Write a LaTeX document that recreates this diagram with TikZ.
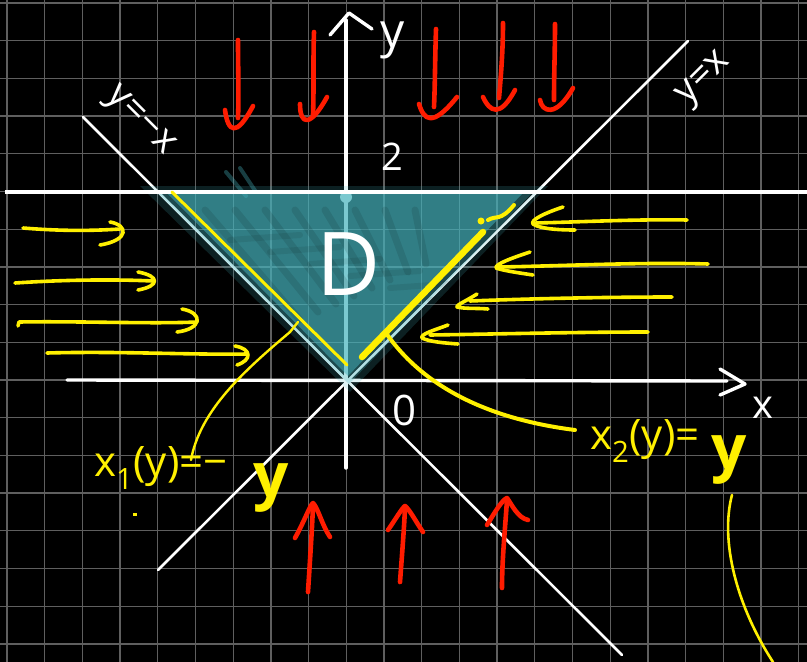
\documentclass[tikz,border=0pt]{standalone}
\usepackage{fontspec}
\setmainfont{Open Sans}
\definecolor{yel}{RGB}{255,240,0}
\definecolor{red1}{RGB}{255,28,0}
\definecolor{cy}{RGB}{70,180,190}
\definecolor{gridc}{RGB}{95,95,95}
\begin{document}
\begin{tikzpicture}[x=1pt,y=-1pt,
  gridl/.style={draw=gridc,line width=1.3pt},
  wl/.style={draw=white,line width=3.4pt,line cap=round,line join=round},
  wd/.style={draw=white,line width=2.6pt,line cap=round},
  ya/.style={draw=yel,line width=3.6pt,line cap=round,line join=round},
  ra/.style={draw=red1,line width=4.6pt,line cap=round,line join=round},
  lab/.style={text=white,inner sep=0pt},
  ylab/.style={text=yel,inner sep=0pt}]
\useasboundingbox (0,0) rectangle (807,662);
\fill[black] (0,0) rectangle (807,662);
% grid
\foreach \i in {0,...,21} \draw[gridl] ({7+37.7*\i},0) -- ({7+37.7*\i},662);
\foreach \j in {0,...,17} \draw[gridl] (0,{3+37.7*\j}) -- (807,{3+37.7*\j});
% lines
\coordinate (dA0) at (158,570); \coordinate (dA1) at (688,41);
\coordinate (dB0) at (83,117);  \coordinate (dB1) at (622,655);
\draw[wd] (dA0) -- (dA1);
\draw[wd] (dB0) -- (dB1);
\coordinate (h0) at (5,192); \coordinate (h1) at (807,192);
\coordinate (xa0) at (67,380); \coordinate (xa1) at (727,381);
\coordinate (ya0) at (346,468); \coordinate (ya1) at (346,20);
\draw[wl] (xa0) -- (xa1);
\draw[wl] (720,369) -- (745,384) -- (720,395);
\draw[wl] (ya0) -- (ya1);
\draw[wl] (330,35) -- (349,13) -- (372,29);
\fill[white] (346,197) circle (6);
% shaded region D
\fill[cy,opacity=0.18] (140,186) -- (548,186) -- (350,392) -- cycle;
\fill[cy,opacity=0.28] (155,190) -- (535,190) -- (349,384) -- cycle;
\fill[cy,opacity=0.5] (168,194) -- (522,194) -- (348,376) -- cycle;
\foreach \k in {0,...,7} {
  \draw[black,opacity=0.1,line width=7pt,line cap=round] ({205+30*\k},210) -- ({300+18*\k},{320-8*\k});
}
\foreach \k in {0,...,5} {
  \draw[black,opacity=0.08,line width=6pt,line cap=round] ({230+40*\k},{240+12*\k}) -- ({300+40*\k},{235+12*\k});
}
\draw[cy,opacity=0.35,line width=4pt,line cap=round] (226,172) -- (246,196);
\draw[cy,opacity=0.35,line width=4pt,line cap=round] (240,168) -- (256,192);
\draw[white,line width=3.4pt] (h0) -- (h1);
% white labels
\node[lab,font=\fontsize{48}{48}\selectfont] (ylab) at (393,40) {y};
\node[lab,font=\fontsize{38}{38}\selectfont] (two) at (392,157) {2};
\node[lab,font=\fontsize{42}{42}\selectfont] (olab) at (405,410) {0};
\node[lab,font=\fontsize{40}{40}\selectfont] (xlab) at (763,408) {x};
\node[lab,font=\fontsize{88}{88}\selectfont] (D) at (349,264) {D};
\node[lab,rotate=-45,font=\fontsize{38}{38}\selectfont] (ymx) at (139,122) {y=−x};
\node[lab,rotate=45,font=\fontsize{38}{38}\selectfont] (yx) at (705,80) {y=x};
% yellow boundary lines
\draw[yel,line width=3pt,line cap=round] (172,192) -- (347,365);
\draw[yel,line width=6.5pt,line cap=round] (362,357) -- (483,232);
\fill[yel] (481,221) circle (3.5);
\draw[yel,line width=4pt,line cap=round] (488,220) .. controls (496,215) and (500,222) .. (514,205);
% yellow labels
\node[ylab,anchor=west,font=\fontsize{42}{42}\selectfont] (x2) at (590,441) {x\textsubscript{2}(y)=};
\node[ylab,font=\bfseries\fontsize{62}{62}\selectfont] (x2y) at (729,460) {y};
\node[ylab,anchor=west,font=\fontsize{42}{42}\selectfont] (x1) at (94,468) {x\textsubscript{1}(y)=−};
\node[ylab,font=\bfseries\fontsize{62}{62}\selectfont] (x1y) at (271,488) {y};
\fill[yel] (133,513) rectangle (137,516);
% leader curves
\coordinate (lp1) at (298,322);
\coordinate (lp2) at (386,333);
\draw[yel,line width=2.4pt,line cap=round] (290,332) -- (lp1);
\draw[yel,line width=2.4pt,line cap=round] (290,332) .. controls (245,370) and (200,410) .. (191,460);
\draw[yel,line width=4pt,line cap=round] (lp2) .. controls (420,382) and (480,418) .. (575,430);
\draw[yel,line width=2.6pt,line cap=round] (732,495) .. controls (720,540) and (736,605) .. (773,662);
% yellow arrows from left
\draw[ya] (23,228) .. controls (60,231) and (90,231) .. (120,229);
\draw[ya] (110,222) .. controls (128,225) and (130,240) .. (100,245);
\draw[ya] (15,283) .. controls (60,280) and (110,279) .. (153,281);
\draw[ya] (138,272) .. controls (160,276) and (160,286) .. (138,290);
\draw[ya] (18,326) -- (19,322) .. controls (80,321) and (150,324) .. (197,322);
\draw[ya] (182,309) .. controls (204,313) and (202,329) .. (177,332);
\draw[ya] (47,353) .. controls (120,351) and (190,355) .. (247,354);
\draw[ya] (235,346) .. controls (252,349) and (252,360) .. (237,365);
% yellow arrows from right
\draw[ya] (687,220) .. controls (640,219) and (580,222) .. (536,223);
\draw[ya] (563,207) .. controls (545,213) and (530,220) .. (533,224) .. controls (540,229) and (560,230) .. (575,230);
\draw[ya] (708,264) .. controls (640,262) and (560,266) .. (500,267);
\draw[ya] (530,252) .. controls (512,258) and (495,264) .. (496,268) .. controls (505,271) and (520,273) .. (533,275);
\draw[ya] (672,297) .. controls (600,297) and (520,299) .. (470,301);
\draw[ya] (477,294) .. controls (468,300) and (456,305) .. (457,307) .. controls (465,309) and (478,308) .. (488,309);
\draw[ya] (648,332) .. controls (580,332) and (500,334) .. (430,335);
\draw[ya] (448,325) .. controls (435,330) and (420,334) .. (422,338) .. controls (430,342) and (445,343) .. (458,344);
% red arrows from top
\draw[ra] (238,40) .. controls (238,70) and (239,95) .. (238,118);
\draw[ra] (225,110) .. controls (228,132) and (236,138) .. (253,106);
\draw[ra] (314,32) .. controls (313,60) and (314,90) .. (313,115);
\draw[ra] (300,104) .. controls (300,125) and (310,128) .. (327,97);
\draw[ra] (436,29) .. controls (435,60) and (435,85) .. (434,107);
\draw[ra] (419,104) .. controls (424,120) and (432,128) .. (457,97);
\draw[ra] (503,23) .. controls (503,50) and (501,75) .. (499,98);
\draw[ra] (483,97) .. controls (490,112) and (500,118) .. (515,90);
\draw[ra] (555,24) .. controls (555,50) and (554,75) .. (554,100);
\draw[ra] (540,100) .. controls (542,112) and (556,118) .. (573,88);
% red arrows from bottom
\draw[ra] (308,592) .. controls (310,560) and (312,530) .. (313,506);
\draw[ra] (295,538) .. controls (305,520) and (310,505) .. (313,503) .. controls (318,508) and (322,525) .. (330,537);
\draw[ra] (400,582) .. controls (402,555) and (404,530) .. (405,508);
\draw[ra] (388,530) .. controls (395,520) and (402,508) .. (405,506) .. controls (410,510) and (416,522) .. (423,532);
\draw[ra] (502,588) .. controls (502,560) and (505,530) .. (507,500);
\draw[ra] (487,525) .. controls (495,512) and (502,500) .. (507,498) .. controls (512,505) and (518,518) .. (528,520);
\end{tikzpicture}
\end{document}
